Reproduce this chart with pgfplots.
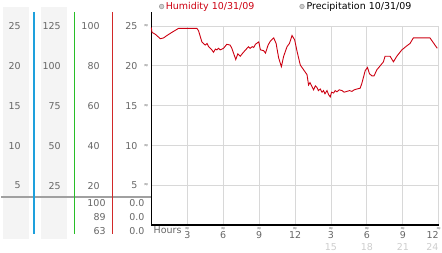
\documentclass[border=0pt]{standalone}
\usepackage{fontspec}
\setmainfont{DejaVu Sans}
\usepackage{pgfplots}
\pgfplotsset{compat=1.18}
\definecolor{hum}{RGB}{204,0,17}
\definecolor{lbl}{RGB}{102,102,102}
\definecolor{lbl2}{RGB}{205,205,205}
\definecolor{gridc}{RGB}{216,216,216}
\definecolor{panel}{RGB}{244,244,244}
\definecolor{tealc}{RGB}{30,160,220}
\definecolor{grn}{RGB}{40,190,40}
\definecolor{redl}{RGB}{210,40,40}
\definecolor{sepc}{RGB}{160,160,160}
\newcommand{\tf}{\fontsize{9.5}{10}\selectfont}
\newcommand{\af}{\fontsize{5.5}{5.5}\selectfont}
\begin{document}
\begin{tikzpicture}[x=1pt,y=1pt]
% left panel (decoration)
\fill[panel] (-148.7,-14) rectangle (-122.7,219);
\fill[panel] (-110.7,-14) rectangle (-84.7,219);
\draw[sepc, line width=2pt] (-150.7,29) -- (0,29);
\draw[tealc, line width=1.3pt] (-117.7,214) -- (-117.7,-9);
\draw[grn, line width=1.3pt] (-77.2,214) -- (-77.2,-9);
\draw[redl, line width=1.3pt] (-38.7,214) -- (-38.7,-9);
\foreach \v/\a/\b in {25/125/100,20/100/80,15/75/60,10/50/40,5/25/20}{
  \node[anchor=east, inner sep=0, text=lbl, font=\tf] at (-130.7,\v*8) {\v};
  \node[anchor=east, inner sep=0, text=lbl, font=\tf] at (-90.7,\v*8) {\a};
  \node[anchor=east, inner sep=0, text=lbl, font=\tf] at (-51.7,\v*8) {\b};
  \node[anchor=east, inner sep=0, text=lbl, font=\tf] at (-13.7,\v*8) {\v};
  \node[inner sep=0, text=lbl, font=\af] at (-5.2,\v*8) {≈};
}
\foreach \yy/\p in {22/100,8/89,-6/63}{
  \node[anchor=east, inner sep=0, text=lbl, font=\tf] at (-45.7,\yy) {\p};
  \node[anchor=east, inner sep=0, text=lbl, font=\tf] at (-6.7,\yy) {0.0};
}
\begin{axis}[
  at={(0,0)}, anchor=south west,
  scale only axis, width=288pt, height=200pt,
  xmin=0, xmax=24, ymin=0, ymax=25,
  axis lines=left, axis line style={-, black},
  x axis line style={line width=2pt},
  y axis line style={line width=1.5pt},
  xtick={3,6,...,24}, xticklabels={3,6,9,12,3,6,9,\llap{12}},
  ytick={5,10,...,25}, yticklabels={},
  grid=major, major grid style={gridc, line width=0.8pt},
  tick style={draw=none},
  xticklabel style={text=lbl, font=\tf, anchor=north, yshift=-3.5pt, inner sep=0pt},
  clip=false,
]
\addplot[hum, line width=0.9pt] coordinates {
(0,24.8) (0.05,24.2) (0.33,23.96) (0.75,23.4) (1.02,23.5) (1.3,23.8) (1.72,24.2)
(2.28,24.7) (3.8,24.7) (3.94,24.4) (4.22,23.0) (4.5,22.6) (4.65,22.8) (4.78,22.4)
(5.05,22.0) (5.19,21.7) (5.35,22.1) (5.47,22.0) (5.6,22.2) (5.75,22.0) (6.03,22.2)
(6.3,22.7) (6.58,22.6) (6.72,22.2) (7.05,20.8) (7.22,21.5) (7.42,21.2) (7.69,21.7)
(8.11,22.4) (8.25,22.2) (8.42,22.4) (8.55,22.3) (8.69,22.7) (8.97,23.0) (9.11,22.0)
(9.38,21.9) (9.53,21.6) (9.75,22.6) (9.94,23.1) (10.22,23.5) (10.42,22.8)
(10.63,21.0) (10.86,19.9) (11.05,21.2) (11.33,22.4) (11.53,22.8) (11.75,23.8)
(11.97,23.25) (12.17,21.8) (12.44,20.1) (12.72,19.5) (13.0,18.9) (13.13,17.6)
(13.25,17.9) (13.42,17.4) (13.55,17.0) (13.7,17.5) (13.83,17.3) (13.95,16.9)
(14.11,17.1) (14.25,16.7) (14.38,16.9) (14.5,16.5) (14.67,16.9) (14.8,16.4)
(14.94,16.1) (15.05,16.7) (15.22,16.6) (15.35,16.9) (15.5,16.75) (15.7,17.0)
(15.92,16.9) (16.1,16.7) (16.33,16.8) (16.55,16.9) (16.75,16.8) (16.95,17.0)
(17.17,17.1) (17.44,17.2) (17.58,17.8) (17.86,19.4) (18.05,19.8) (18.22,19.0)
(18.42,18.75) (18.6,18.75) (18.83,19.5) (19.11,20.0) (19.38,20.5) (19.52,21.2)
(19.94,21.2) (20.22,20.5) (20.5,21.2) (20.92,22.0) (21.33,22.5) (21.6,22.8)
(21.88,23.5) (23.27,23.5) (23.69,22.6) (23.88,22.2)
};
\end{axis}
% extra axis decorations
\draw[black, line width=1.5pt] (0,200) -- (0,214);
\foreach \t in {3,6,...,24}{
  \node[inner sep=0, text=lbl, font=\af] at (\t*12,-3.2) {≈};
}
\node[inner sep=0, text=lbl, font=\tf] at (16.3,-5) {Hours};
\foreach \t in {15,18,21}{
  \node[inner sep=0, text=lbl2, font=\tf] at (\t*12,-22) {\t};
}
\node[anchor=east, inner sep=0, text=lbl2, font=\tf] at (288,-22) {24};
% legend
\filldraw[fill=lbl2, draw=sepc, line width=0.6pt] (10.3,219.5) circle (2.3);
\node[anchor=west, inner sep=0, text=hum, font=\tf] at (14.3,219.5) {Humidity 10/31/09};
\filldraw[fill=lbl2, draw=sepc, line width=0.6pt] (151,219.5) circle (2.3);
\node[anchor=west, inner sep=0, text=black, font=\tf] at (155.3,219.5) {Precipitation 10/31/09};
\path[use as bounding box] (-150.7,-27) rectangle (291.3,226);
\end{tikzpicture}
\end{document}
